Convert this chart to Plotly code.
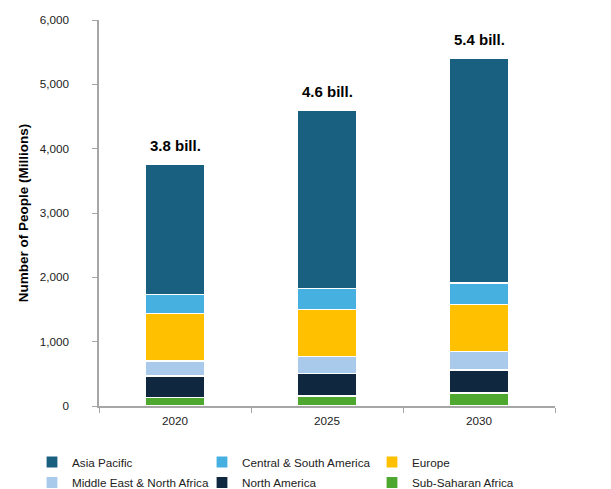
import plotly.graph_objects as go

years = ["2020", "2025", "2030"]
totals_labels = ["3.8 bill.", "4.6 bill.", "5.4 bill."]

sub_saharan_africa = [129, 155, 202]
north_america = [337, 353, 358]
middle_east_na = [234, 259, 284]
europe = [735, 736, 737]
central_south_america = [301, 326, 331]
asia_pacific = [2026, 2772, 3493]

# (name, values, colour, legend row)
series = [
    ("Sub-Saharan Africa", sub_saharan_africa, "#4EA72E", "legend2"),
    ("North America", north_america, "#10283F", "legend2"),
    ("Middle East & North Africa", middle_east_na, "#A9CAEB", "legend2"),
    ("Europe", europe, "#FFC000", "legend"),
    ("Central & South America", central_south_america, "#46B0E1", "legend"),
    ("Asia Pacific", asia_pacific, "#185F80", "legend"),
]

FONT = "Liberation Sans, Arial, sans-serif"
W, H = 603, 481  # page body adds an 8px offset
L, R, T, B = 91, 56, 12, 83
PW, PH = W - L - R, H - T - B

fig = go.Figure()
for name, vals, col, lg in series:
    fig.add_trace(go.Bar(
        x=years, y=vals, name=name, legend=lg,
        marker=dict(color=col, line=dict(color="white", width=1.2)),
    ))

totals = [sum(v[i] for _, v, _, _ in series) for i in range(len(years))]
for idx, (tot, lab) in enumerate(zip(totals, totals_labels)):
    fig.add_annotation(x=idx, y=tot, text=f"<b>{lab}</b>", showarrow=False,
                       yanchor="bottom", yshift=8,
                       font=dict(family=FONT, size=15, color="black"))

leg_common = dict(
    orientation="h", traceorder="reversed",
    x=(24 - L) / PW, xanchor="left", yanchor="middle",
    entrywidth=125, entrywidthmode="pixels",
    font=dict(family=FONT, size=11.7, color="#222"),
    itemwidth=30, bgcolor="rgba(0,0,0,0)",
)

fig.update_layout(
    width=W, height=H,
    margin=dict(l=L, r=R, t=T, b=B, autoexpand=False),
    paper_bgcolor="white", plot_bgcolor="white",
    barmode="stack", bargap=0.605,
    font=dict(family=FONT, size=12, color="#222"),
    showlegend=True,
    legend=dict(leg_common, y=(H - B - 454) / PH),
    legend2=dict(leg_common, y=(H - B - 474.5) / PH),
    xaxis=dict(
        type="category",
        showline=True, linecolor="#A6A6A6", linewidth=1.5,
        ticks="outside", tickson="boundaries", ticklen=5, tickcolor="#A6A6A6",
        ticklabelstandoff=3,
        tickfont=dict(family=FONT, size=11.7, color="#222"),
    ),
    yaxis=dict(
        range=[0, 6000], dtick=1000, tickformat=",",
        showline=True, linecolor="#A6A6A6", linewidth=1.5,
        ticks="outside", ticklen=5, tickcolor="#A6A6A6",
        ticklabelstandoff=21,
        showgrid=False, zeroline=False,
        tickfont=dict(family=FONT, size=11.7, color="#222"),
        title=dict(text="<b>Number of People (Millions)</b>",
                   font=dict(family=FONT, size=13.5, color="black"), standoff=8),
    ),
)

fig.write_html("out.html")
